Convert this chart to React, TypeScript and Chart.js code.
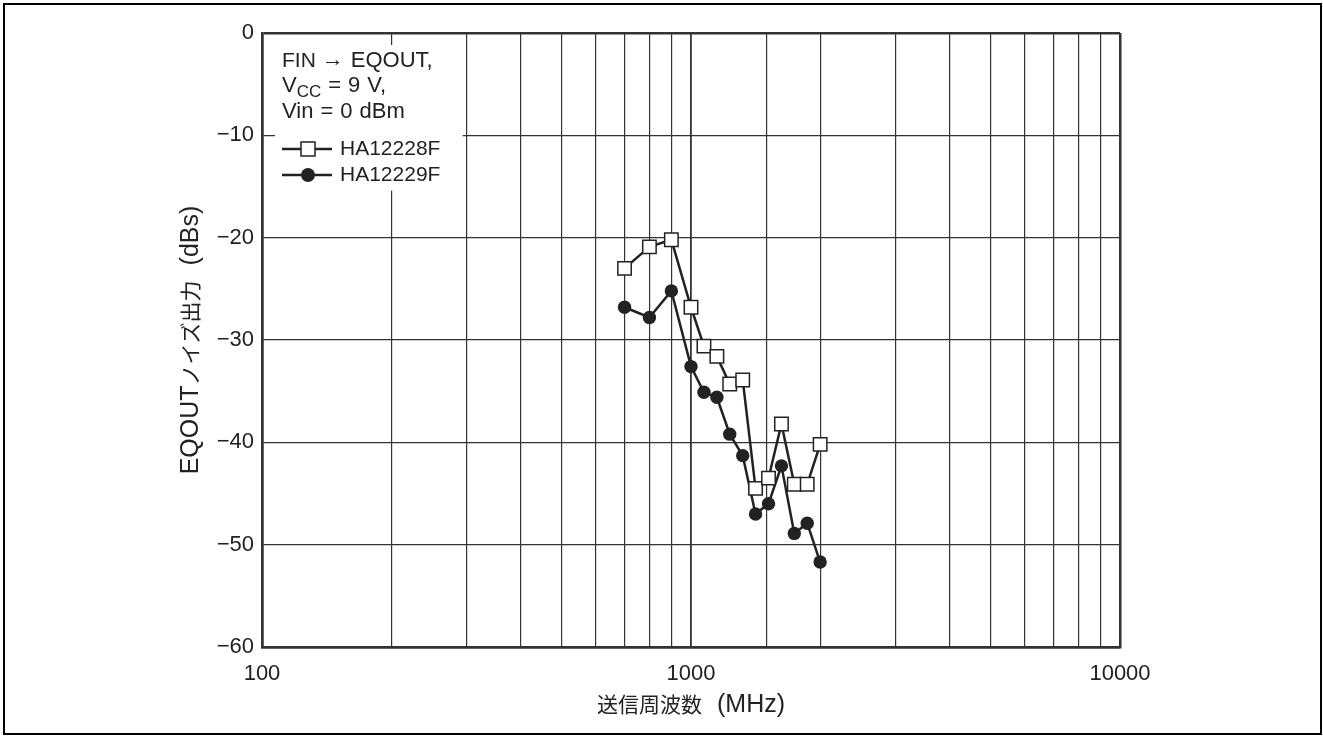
import React, { useEffect, useRef } from 'react';
import { Chart, registerables } from 'chart.js';

Chart.register(...registerables);

// ---- data ----
const freqs = [700, 800, 900, 1000, 1072, 1149, 1231, 1320, 1414, 1516, 1625, 1741, 1866, 2000];
const ha12228F = [-23.0, -20.9, -20.2, -26.8, -30.6, -31.6, -34.3, -33.9, -44.5, -43.5, -38.2, -44.1, -44.1, -40.2];
const ha12229F = [-26.8, -27.8, -25.2, -32.6, -35.1, -35.6, -39.2, -41.3, -47.0, -46.0, -42.3, -48.9, -47.9, -51.7];
const seriesNames = ['HA12228F', 'HA12229F'];
const xLabelValues = [100, 1000, 10000];
const xMin = 100;
const xMax = 10000;
const yMin = -60;
const yMax = 0;
const yStep = 10;
const xTitleCJK = '送信周波数';
const xTitleUnit = '(MHz)';
const yTitleLatin = 'EQOUT';
const yTitleCJK = 'ノイズ出力';
const yTitleUnit = '(dBs)';

const LATIN = "'Liberation Sans', Arial, sans-serif";
const CJK = "'Noto Sans CJK JP', 'Noto Sans CJK SC', sans-serif";
const INK = '#222';

// draw text with custom space width; returns end x
function drawSpaced(ctx: any, text: string, x: number, y: number, sp: number) {
  const parts = text.split(' ');
  let cx = x;
  parts.forEach((p, i) => {
    if (p) {
      ctx.fillText(p, cx, y);
      cx += ctx.measureText(p).width;
    }
    if (i < parts.length - 1) cx += sp;
  });
  return cx;
}

type Run = { t: string; f: string; gap?: number };
function runsWidth(ctx: any, runs: Run[]) {
  let w = 0;
  runs.forEach((r) => {
    ctx.font = r.f;
    w += (r.gap || 0) + ctx.measureText(r.t).width;
  });
  return w;
}
function drawRuns(ctx: any, runs: Run[], cx: number, baseline: number) {
  const w = runsWidth(ctx, runs);
  let x = cx - w / 2;
  ctx.textAlign = 'left';
  ctx.textBaseline = 'alphabetic';
  runs.forEach((r) => {
    ctx.font = r.f;
    x += r.gap || 0;
    ctx.fillText(r.t, x, baseline);
    x += ctx.measureText(r.t).width;
  });
}

const overlayPlugin = {
  id: 'overlay',
  afterDraw(chart: any) {
    const { ctx, chartArea: ca, scales } = chart;
    ctx.save();
    // outer frame
    ctx.strokeStyle = '#000';
    ctx.lineWidth = 2;
    ctx.strokeRect(4, 4, 1317, 730);

    // note / legend box (white, covers grid)
    const bx = ca.left + 13;
    const by = ca.top + 12;
    const bRight = scales.x.getPixelForValue(300) - 4;
    const bBottom = scales.y.getPixelForValue(-15.4);
    ctx.fillStyle = '#fff';
    ctx.fillRect(bx, by, bRight - bx, bBottom - by);

    ctx.fillStyle = INK;
    ctx.textBaseline = 'middle';
    ctx.textAlign = 'left';
    const tx = ca.left + 20;
    const sp = 7;
    // line 1: FIN → EQOUT,
    const l1 = ca.top + 28;
    let cx = tx;
    ctx.font = `21px ${LATIN}`;
    ctx.fillText('FIN', cx, l1);
    cx += ctx.measureText('FIN').width + 6;
    ctx.font = `22px ${LATIN}`;
    ctx.fillText('\u2192', cx, l1 - 1);
    cx += ctx.measureText('\u2192').width + 7;
    ctx.font = `22px ${LATIN}`;
    ctx.fillText('EQOUT,', cx, l1);
    // line 2: V_CC = 9 V,
    const l2 = ca.top + 53;
    cx = tx;
    ctx.font = `22px ${LATIN}`;
    ctx.fillText('V', cx, l2);
    cx += ctx.measureText('V').width;
    ctx.font = `17px ${LATIN}`;
    ctx.fillText('CC', cx, l2 + 6);
    cx += ctx.measureText('CC').width;
    ctx.font = `22px ${LATIN}`;
    drawSpaced(ctx, ' = 9 V,', cx, l2, sp);
    // line 3
    drawSpaced(ctx, 'Vin = 0 dBm', tx, ca.top + 79, sp);

    // legend rows
    const rows = [ca.top + 116, ca.top + 142];
    rows.forEach((ry, i) => {
      ctx.strokeStyle = INK;
      ctx.lineWidth = 2.5;
      ctx.beginPath();
      ctx.moveTo(tx, ry);
      ctx.lineTo(tx + 50, ry);
      ctx.stroke();
      const mx = tx + 26;
      if (i === 0) {
        ctx.fillStyle = '#fff';
        ctx.fillRect(mx - 7, ry - 7, 14, 14);
        ctx.lineWidth = 1.5;
        ctx.strokeRect(mx - 7, ry - 7, 14, 14);
      } else {
        ctx.fillStyle = INK;
        ctx.beginPath();
        ctx.arc(mx, ry, 7, 0, Math.PI * 2);
        ctx.fill();
      }
      ctx.fillStyle = INK;
      ctx.font = `21px ${LATIN}`;
      ctx.fillText(seriesNames[i], tx + 58, ry);
    });

    // axis titles (mixed Latin / CJK runs)
    ctx.fillStyle = INK;
    drawRuns(
      ctx,
      [
        { t: xTitleCJK, f: `21px ${CJK}` },
        { t: xTitleUnit, f: `25px ${LATIN}`, gap: 15 },
      ],
      (ca.left + ca.right) / 2,
      711.5
    );
    ctx.translate(197.5, (ca.top + ca.bottom) / 2);
    ctx.rotate(-Math.PI / 2);
    drawRuns(
      ctx,
      [
        { t: yTitleLatin, f: `25px ${LATIN}` },
        { t: yTitleCJK, f: `21px ${CJK}` },
        { t: yTitleUnit, f: `25px ${LATIN}`, gap: 15 },
      ],
      0,
      0
    );
    ctx.restore();
  },
};

export default function App() {
  const ref = useRef<HTMLCanvasElement | null>(null);
  useEffect(() => {
    if (!ref.current) return;
    const edgeX = (c: any) => {
      const v = c.tick && c.tick.value;
      if (v === xMin || v === xMax) return 2.5;
      if (v === 1000) return 1.8;
      return 1.2;
    };
    const edgeY = (c: any) => (c.tick && (c.tick.value === yMin || c.tick.value === yMax) ? 2.5 : 1.2);
    const chart = new Chart(ref.current, {
      type: 'line',
      data: {
        datasets: [
          {
            label: seriesNames[0],
            data: freqs.map((f, i) => ({ x: f, y: ha12228F[i] })),
            borderColor: INK,
            borderWidth: 2.5,
            pointStyle: 'rect',
            pointRadius: 9.5,
            pointBackgroundColor: '#fff',
            pointBorderColor: INK,
            pointBorderWidth: 1.5,
            tension: 0,
          },
          {
            label: seriesNames[1],
            data: freqs.map((f, i) => ({ x: f, y: ha12229F[i] })),
            borderColor: INK,
            borderWidth: 2.5,
            pointStyle: 'circle',
            pointRadius: 6.7,
            pointBackgroundColor: INK,
            pointBorderColor: INK,
            pointBorderWidth: 0,
            tension: 0,
          },
        ],
      },
      options: {
        responsive: false,
        animation: false,
        devicePixelRatio: 1,
        layout: { padding: { left: 0, top: 33, right: 203, bottom: 0 } },
        plugins: { legend: { display: false }, tooltip: { enabled: false } },
        scales: {
          x: {
            type: 'logarithmic',
            min: xMin,
            max: xMax,
            afterFit: (s: any) => {
              s.height = 89;
            },
            grid: { color: '#333', lineWidth: edgeX, drawTicks: false },
            border: { display: true, color: '#333', width: 2.5 },
            ticks: {
              autoSkip: false,
              maxRotation: 0,
              padding: 14,
              color: INK,
              font: { family: LATIN, size: 22 },
              callback: (v: any) => (xLabelValues.includes(Number(v)) ? String(v) : ''),
            },
          },
          y: {
            min: yMin,
            max: yMax,
            afterFit: (s: any) => {
              s.width = 262;
            },
            grid: { color: '#333', lineWidth: edgeY, drawTicks: false },
            border: { display: true, color: '#333', width: 2.5 },
            ticks: {
              stepSize: yStep,
              padding: 8,
              color: INK,
              font: { family: LATIN, size: 22 },
              callback: (v: any) => (Number(v) < 0 ? '\u2212' + Math.abs(Number(v)) : String(v)),
            },
          },
        },
      },
      plugins: [overlayPlugin],
    } as any);
    return () => chart.destroy();
  }, []);
  return (
    <div style={{ position: 'absolute', left: 0, top: 0, width: 1323, height: 736, background: '#fff' }}>
      <canvas ref={ref} width={1323} height={736} />
    </div>
  );
}
